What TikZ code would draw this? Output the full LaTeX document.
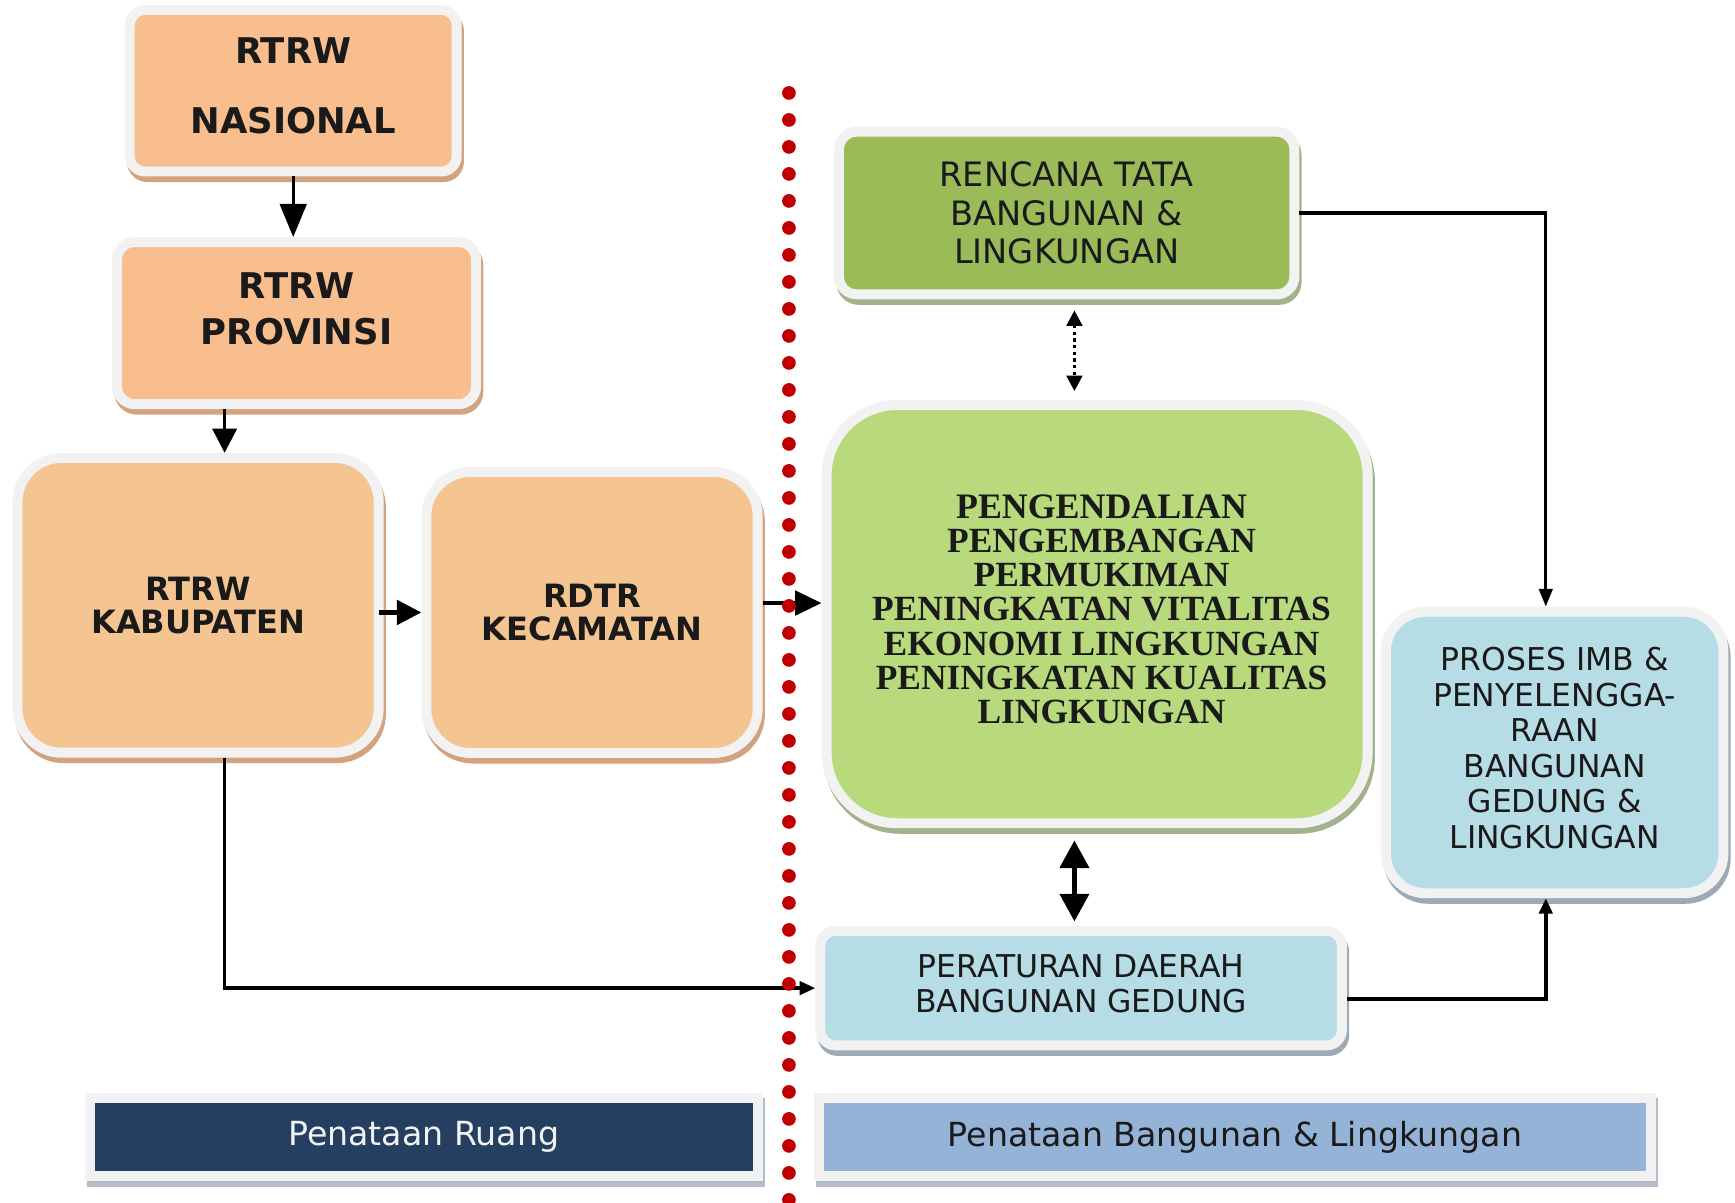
\documentclass[tikz,border=0pt]{standalone}
\usepackage{fontspec}
\setmainfont{DejaVu Sans}
\newfontfamily\serifb{Liberation Serif}
\usetikzlibrary{arrows.meta,shadows}
\definecolor{orA}{HTML}{F8BE8E}
\definecolor{orB}{HTML}{F4C491}
\definecolor{orS}{HTML}{D3A27E}
\definecolor{gnA}{HTML}{9BBB59}
\definecolor{gnB}{HTML}{B8DA7C}
\definecolor{gnS}{HTML}{A3B28C}
\definecolor{blA}{HTML}{B6DCE6}
\definecolor{blS}{HTML}{9CA9B6}
\definecolor{navy}{HTML}{243F60}
\definecolor{steel}{HTML}{95B3D7}
\definecolor{barS}{HTML}{B4BCCB}
\definecolor{rim}{HTML}{F2F2F2}
\definecolor{dotred}{HTML}{C00000}
\definecolor{ink}{HTML}{1A1A1A}
\newcommand{\liftbox}[2]{\raisebox{#1}{\begin{tabular}{@{}c@{}}#2\end{tabular}}}
\newcommand{\shiftup}[2]{\raisebox{#1}[\height][\depth]{\begin{tabular}{@{}c@{}}#2\end{tabular}}}
\tikzset{
  boxbase/.style={draw=rim, line width=4.5pt, inner sep=0pt, align=center, text=ink},
  shad/.style={general shadow={shadow xshift=1pt, shadow yshift=-2.5pt, fill=#1, draw=#1, line width=4.5pt}},
  orbold/.style={font=\bfseries\fontsize{16}{16}\selectfont},
  orboldb/.style={font=\bfseries\fontsize{14.5}{15}\selectfont},
  plain/.style={font=\fontsize{14.2}{16}\selectfont},
  conn/.style={draw=black, line width=1.5pt},
}
\begin{document}
\begin{tikzpicture}[x=0.5pt,y=-0.5pt]
\useasboundingbox (0,0) rectangle (1568,1087);
% boxes
\node[boxbase, shad=orS, fill=orA, rounded corners=7pt, minimum width=147.75pt, minimum height=73pt, orbold]
  (nas) at (265,82) {\liftbox{3pt}{RTRW\\[15pt]NASIONAL}};
\node[boxbase, shad=orS, fill=orA, rounded corners=8pt, minimum width=162.25pt, minimum height=73.25pt, orbold]
  (prov) at (268,292) {\shiftup{4pt}{RTRW\\[4pt]PROVINSI}};
\node[boxbase, shad=orS, fill=orB, rounded corners=20pt, minimum width=163.25pt, minimum height=133.25pt, orboldb]
  (kab) at (179,547) {RTRW\\KABUPATEN};
\node[boxbase, shad=orS, fill=orB, rounded corners=20pt, minimum width=149.75pt, minimum height=127pt, orboldb]
  (rdtr) at (535,553.5) {RDTR\\KECAMATAN};
\node[boxbase, shad=gnS, fill=gnA, rounded corners=8pt, minimum width=205.75pt, minimum height=73.5pt, font=\fontsize{15.2}{17.5}\selectfont]
  (rtbl) at (964,192.5) {RENCANA TATA\\BANGUNAN \&\\LINGKUNGAN};
\node[boxbase, shad=gnS, fill=gnB, rounded corners=32pt, minimum width=244.5pt, minimum height=189pt, font=\serifb\bfseries\fontsize{16}{15.4}\selectfont]
  (big) at (991.5,555) {\hspace*{4pt}\liftbox{3.5pt}{\fontsize{16.2}{12.8}\selectfont PENGENDALIAN\\PENGEMBANGAN\\PERMUKIMAN\\PENINGKATAN VITALITAS\\EKONOMI LINGKUNGAN\\PENINGKATAN KUALITAS\\LINGKUNGAN}};
\node[boxbase, shad=blS, fill=blA, rounded corners=18pt, minimum width=152.5pt, minimum height=127.25pt, plain]
  (imb) at (1405,680) {\liftbox{3.5pt}{\fontsize{14.2}{13.4}\selectfont PROSES IMB \&\\PENYELENGGA-\\RAAN\\BANGUNAN\\GEDUNG \&\\LINGKUNGAN}};
\node[boxbase, shad=blS, fill=blA, rounded corners=7pt, minimum width=235.75pt, minimum height=51.75pt, plain]
  (perda) at (977,893) {\liftbox{1.5pt}{\fontsize{14.2}{13.4}\selectfont PERATURAN DAERAH\\BANGUNAN GEDUNG}};
\node[boxbase, shad=barS, fill=navy, minimum width=302pt, minimum height=35.5pt, text=rim, font=\fontsize{15}{16}\selectfont]
  (bar1) at (383,1027.5) {Penataan Ruang};
\node[boxbase, shad=barS, fill=steel, minimum width=376pt, minimum height=35.5pt, font=\fontsize{15}{16}\selectfont]
  (bar2) at (1116,1027.5) {Penataan Bangunan \& Lingkungan};
% helper coordinates
\coordinate (kx) at (203,0);
\coordinate (ix) at (1397,0);
\coordinate (dx) at (971,0);
\coordinate (ay) at (0,545);
% connectors
\draw[conn, -{Triangle[length=15pt,width=12pt]}] (nas.south) -- (nas.south |- prov.north);
\draw[conn, -{Triangle[length=11pt,width=11pt]}] (prov.south -| kx) -- (kx |- kab.north);
\draw[conn, line width=1.9pt, -{Triangle[length=11pt,width=11pt]}] ([xshift=-2pt]kab.east |- rdtr.west) -- (rdtr.west);
\draw[conn, line width=1.9pt, -{Triangle[length=12pt,width=11pt]}] (rdtr.east |- ay) -- (big.west |- ay);
\draw[conn, line width=1.5pt, -{Triangle[length=7pt,width=6pt]}] (kab.south -| kx) -- (kx |- perda.west) -- (perda.west);
\draw[conn, line width=1.5pt, -{Triangle[length=8pt,width=6pt]}] (rtbl.east) -| (ix |- imb.north);
\draw[conn, line width=2pt, -{Triangle[length=7pt,width=6pt]}] ([yshift=-5pt]perda.east) -| (ix |- imb.south);
\draw[conn, dash pattern=on 1.5pt off 1.5pt, {Triangle[length=7pt,width=7pt]}-{Triangle[length=7pt,width=7pt]}, shorten <=5pt, shorten >=4pt]
  (dx |- rtbl.south) -- (dx |- big.north);
\draw[conn, line width=2.25pt, {Triangle[length=12.5pt,width=13pt]}-{Triangle[length=12.5pt,width=13pt]}, shorten <=5.5pt, shorten >=2pt]
  (dx |- big.south) -- (dx |- perda.north);
% dotted divider
\draw[dotred, line width=6.2pt, line cap=round, dash pattern=on 0pt off 12.2pt] (713,84) -- (713,1100);
\end{tikzpicture}
\end{document}
